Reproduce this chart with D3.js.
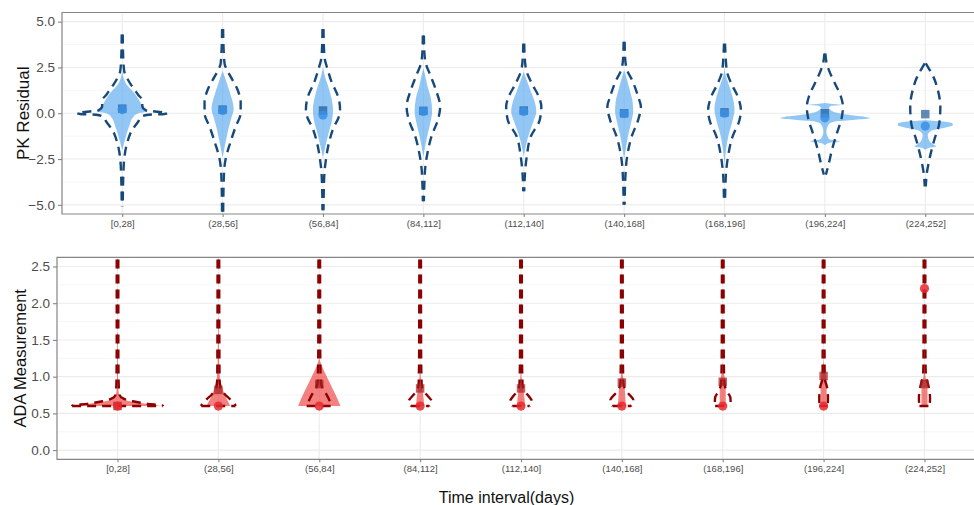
<!DOCTYPE html>
<html><head><meta charset="utf-8">
<script src="https://cdn.jsdelivr.net/npm/d3@7"></script>
<style>body{margin:0;background:#fff} text{font-family:"Liberation Sans",Arial,Helvetica,sans-serif}</style>
</head><body><svg id="c" width="974" height="505" xmlns="http://www.w3.org/2000/svg"></svg>
<script>
// ---------------- DATA ----------------
const categories = ["[0,28]","(28,56]","(56,84]","(84,112]","(112,140]","(140,168]","(168,196]","(196,224]","(224,252]"];
const pkTicks = [-5, -2.5, 0, 2.5, 5];
const pkMinor = [-3.75, -1.25, 1.25, 3.75];
const adaTicks = [0, 0.5, 1, 1.5, 2, 2.5];
const adaMinor = [0.25, 0.75, 1.25, 1.75, 2.25];

// violin profiles: [value, half-width in category steps]
const pkDashed = [
  [[4.3,0.005],[3.0,0.01],[2.3,0.02],[1.8,0.06],[1.3,0.12],[1.0,0.16],[0.7,0.2],[0.4,0.2],[0.15,0.24],[0.06,0.40],[0,0.45],[-0.04,0.42],[-0.08,0.26],[-0.2,0.19],[-0.45,0.16],[-0.9,0.10],[-1.6,0.05],[-2.5,0.02],[-3.5,0.01],[-5.1,0.005]],
  [[4.6,0.005],[3.5,0.01],[2.7,0.02],[2.3,0.05],[2.0,0.08],[1.27,0.15],[0.6,0.18],[0.0,0.18],[-0.73,0.13],[-1.63,0.075],[-2.5,0.03],[-3.5,0.012],[-5.7,0.005]],
  [[4.6,0.005],[3.5,0.01],[2.9,0.02],[2.5,0.04],[1.8,0.08],[0.72,0.16],[0.18,0.17],[-0.3,0.15],[-0.73,0.11],[-1.6,0.06],[-2.5,0.03],[-3.5,0.012],[-5.3,0.005]],
  [[4.25,0.005],[3.3,0.01],[2.7,0.025],[2.0,0.075],[1.27,0.125],[0.36,0.167],[-0.36,0.145],[-1.27,0.08],[-2.2,0.04],[-2.9,0.02],[-3.8,0.01],[-4.8,0.005]],
  [[3.8,0.005],[3.0,0.01],[2.35,0.025],[1.63,0.08],[0.9,0.15],[0.36,0.175],[-0.36,0.16],[-1.27,0.07],[-2.36,0.03],[-3.3,0.012],[-4.26,0.005]],
  [[3.9,0.005],[3.0,0.01],[2.35,0.03],[1.8,0.08],[0.9,0.14],[0.36,0.167],[-0.36,0.14],[-1.27,0.075],[-2.36,0.03],[-3.5,0.012],[-5.0,0.005]],
  [[3.8,0.005],[3.0,0.012],[2.26,0.025],[1.63,0.067],[0.9,0.133],[0.18,0.163],[-0.36,0.15],[-1.27,0.08],[-2.36,0.035],[-3.5,0.012],[-4.9,0.005]],
  [[3.26,0.005],[2.8,0.015],[2.35,0.04],[1.63,0.1],[0.9,0.16],[0.36,0.18],[-0.18,0.17],[-1.09,0.12],[-2.0,0.07],[-2.72,0.04],[-3.35,0.01]],
  [[2.72,0.005],[2.4,0.04],[2.0,0.08],[1.27,0.125],[0.36,0.15],[-0.54,0.14],[-1.45,0.09],[-2.54,0.04],[-3.3,0.015],[-3.99,0.005]]
];
const pkFilled = [
  [[2.4,0],[2.0,0.01],[1.6,0.04],[1.1,0.12],[0.7,0.17],[0.4,0.2],[0.18,0.23],[0.08,0.24],[0.0,0.16],[-0.2,0.11],[-0.7,0.07],[-1.2,0.04],[-1.6,0.02],[-2.0,0]],
  [[2.3,0],[2.0,0.02],[1.5,0.05],[1.0,0.08],[0.5,0.105],[0.2,0.11],[-0.2,0.09],[-0.8,0.06],[-1.45,0.035],[-2.0,0.015],[-2.4,0]],
  [[2.5,0],[2.0,0.02],[1.5,0.05],[0.8,0.085],[0.2,0.1],[-0.4,0.09],[-1.0,0.06],[-1.8,0.025],[-2.4,0]],
  [[2.45,0],[2.0,0.02],[1.5,0.04],[0.8,0.075],[0.1,0.087],[-0.5,0.07],[-1.2,0.04],[-1.9,0.015],[-2.36,0]],
  [[2.26,0],[1.8,0.03],[1.2,0.07],[0.6,0.11],[0.1,0.125],[-0.4,0.1],[-1.0,0.06],[-1.8,0.02],[-2.36,0]],
  [[2.35,0],[1.9,0.025],[1.3,0.055],[0.6,0.085],[0.1,0.09],[-0.5,0.07],[-1.2,0.04],[-2.0,0.015],[-2.5,0]],
  [[2.5,0],[2.1,0.01],[1.6,0.04],[0.9,0.08],[0.2,0.1],[-0.4,0.08],[-1.2,0.04],[-2.0,0.015],[-2.5,0.005],[-2.8,0]],
  [[0.56,0],[0.5,0.08],[0.45,0.16],[0.4,0.06],[0.3,0.04],[0.1,0.08],[0.0,0.14],[-0.1,0.25],[-0.2,0.4],[-0.27,0.45],[-0.35,0.3],[-0.45,0.1],[-0.6,0.04],[-1.0,0.015],[-1.4,0.04],[-1.54,0.15],[-1.62,0.04],[-1.75,0]],
  [[-0.38,0],[-0.45,0.18],[-0.55,0.27],[-0.65,0.275],[-0.8,0.18],[-0.95,0.06],[-1.2,0.025],[-1.5,0.04],[-1.7,0.08],[-1.8,0.11],[-1.9,0.03],[-2.0,0]]
];
const pkSquare = [0.25, 0.2, 0.15, 0.13, 0.15, 0.0, 0.05, 0.0, -0.05];
const pkCircle = [0.2, 0.15, -0.1, 0.1, 0.1, -0.02, 0.0, -0.25, -0.7];

const adaDashed = [
  [[2.8,0.008],[1.5,0.008],[1.0,0.01],[0.8,0.015],[0.75,0.02],[0.7,0.06],[0.665,0.15],[0.63,0.3],[0.605,0.45],[0.6,0.45]],
  [[2.8,0.008],[1.3,0.01],[0.95,0.012],[0.85,0.02],[0.8,0.04],[0.75,0.07],[0.7,0.11],[0.66,0.14],[0.62,0.165],[0.6,0.17]],
  [[2.8,0.008],[1.3,0.01],[0.95,0.015],[0.85,0.03],[0.8,0.05],[0.75,0.075],[0.68,0.1],[0.63,0.12],[0.6,0.125]],
  [[2.8,0.008],[1.3,0.01],[0.9,0.015],[0.83,0.025],[0.78,0.05],[0.73,0.08],[0.68,0.11],[0.64,0.115],[0.6,0.09]],
  [[2.8,0.008],[1.3,0.01],[0.9,0.015],[0.83,0.025],[0.78,0.05],[0.73,0.08],[0.68,0.105],[0.64,0.11],[0.6,0.085]],
  [[2.8,0.008],[1.3,0.01],[0.92,0.015],[0.85,0.025],[0.79,0.05],[0.74,0.085],[0.68,0.115],[0.64,0.115],[0.6,0.09]],
  [[2.8,0.008],[1.3,0.01],[0.95,0.015],[0.85,0.025],[0.78,0.05],[0.72,0.075],[0.66,0.078],[0.6,0.075]],
  [[2.8,0.008],[1.1,0.01],[0.95,0.015],[0.88,0.03],[0.8,0.04],[0.7,0.043],[0.6,0.04]],
  [[2.8,0.008],[1.2,0.01],[1.0,0.015],[0.9,0.035],[0.8,0.05],[0.7,0.055],[0.6,0.05]]
];
const adaFilled = [
  [[1.6,0.003],[1.0,0.005],[0.8,0.01],[0.72,0.03],[0.68,0.08],[0.65,0.18],[0.62,0.33],[0.6,0.44]],
  [[1.8,0.003],[1.3,0.006],[1.0,0.014],[0.9,0.03],[0.8,0.05],[0.7,0.08],[0.65,0.1],[0.6,0.115]],
  [[1.25,0],[1.2,0.012],[1.1,0.04],[1.0,0.075],[0.9,0.11],[0.8,0.145],[0.7,0.18],[0.6,0.21]],
  [[1.2,0],[1.0,0.006],[0.9,0.015],[0.8,0.025],[0.7,0.035],[0.6,0.04]],
  [[1.2,0],[1.0,0.006],[0.9,0.015],[0.8,0.025],[0.7,0.035],[0.6,0.04]],
  [[1.2,0],[1.02,0.008],[0.95,0.02],[0.85,0.028],[0.7,0.035],[0.6,0.04]],
  [[1.2,0],[1.05,0.01],[0.95,0.025],[0.8,0.03],[0.6,0.03]],
  [[1.25,0],[1.1,0.01],[1.0,0.025],[0.85,0.03],[0.6,0.03]],
  [[1.15,0],[1.0,0.01],[0.92,0.025],[0.8,0.03],[0.6,0.03]]
];
const adaSquare = [0.6, 0.82, 0.9, 0.84, 0.84, 0.92, 0.93, 1.01, 0.9];
const adaCircle = [0.6, 0.6, 0.6, 0.6, 0.6, 0.6, 0.6, 0.6, 2.2];

// ---------------- DRAW ----------------
const svg = d3.select("#c");
const FONT = '"Liberation Sans",Arial,Helvetica,sans-serif';

function panel(cfg) {
  const x = d3.scalePoint().domain(categories).range([cfg.left, cfg.right]).padding(0.6);
  const y = d3.scaleLinear().domain(cfg.domain).range([cfg.bottom, cfg.top]);
  const step = x.step();
  const g = svg.append("g");
  const clipId = "clip" + cfg.id;
  svg.append("defs").append("clipPath").attr("id", clipId)
    .append("rect").attr("x", cfg.left).attr("y", cfg.top)
    .attr("width", cfg.right - cfg.left).attr("height", cfg.bottom - cfg.top);

  // gridlines
  g.selectAll(".minor").data(cfg.minor).join("line")
    .attr("x1", cfg.left).attr("x2", cfg.right)
    .attr("y1", d => y(d)).attr("y2", d => y(d))
    .attr("stroke", "#f2f2f2").attr("stroke-width", 0.7);
  g.selectAll(".major").data(cfg.ticks).join("line")
    .attr("x1", cfg.left).attr("x2", cfg.right)
    .attr("y1", d => y(d)).attr("y2", d => y(d))
    .attr("stroke", "#ebebeb").attr("stroke-width", 1.1);
  g.selectAll(".vmajor").data(categories).join("line")
    .attr("x1", d => x(d)).attr("x2", d => x(d))
    .attr("y1", cfg.top).attr("y2", cfg.bottom)
    .attr("stroke", "#ebebeb").attr("stroke-width", 1.1);

  const plot = g.append("g").attr("clip-path", `url(#${clipId})`);

  // filled violins
  categories.forEach((c, i) => {
    const cx = x(c);
    const area = d3.area()
      .y(d => y(d[0]))
      .x0(d => cx - d[1] * step)
      .x1(d => cx + d[1] * step)
      .curve(d3.curveMonotoneY);
    plot.append("path").attr("d", area(cfg.filled[i]))
      .attr("fill", cfg.fillColor).attr("fill-opacity", cfg.fillOpacity).attr("stroke", "none");
  });

  // dashed violins: left & right edges drawn from top so dashes line up
  categories.forEach((c, i) => {
    const cx = x(c);
    const prof = cfg.dashed[i];
    const left = d3.line().x(d => cx - d[1] * step).y(d => y(d[0])).curve(d3.curveMonotoneY);
    const right = d3.line().x(d => cx + d[1] * step).y(d => y(d[0])).curve(d3.curveMonotoneY);
    [left, right].forEach(fn => plot.append("path").attr("d", fn(prof))
      .attr("fill", "none").attr("stroke", cfg.lineColor).attr("stroke-width", 2.4)
      .attr("stroke-dasharray", "9,6").attr("stroke-linecap", "butt"));
    const last = prof[prof.length - 1];
    if (last[1] > 0.02) {
      const line = d3.line().x(d => cx + d * step).y(() => y(last[0]));
      plot.append("path").attr("d", line([-last[1], last[1]]))
        .attr("fill", "none").attr("stroke", cfg.lineColor).attr("stroke-width", 2.4)
        .attr("stroke-dasharray", "9,6");
    }
  });

  // points
  const sq = 8.5;
  plot.selectAll(".sq").data(categories).join("rect")
    .attr("x", d => x(d) - sq / 2).attr("y", (d, i) => y(cfg.square[i]) - sq / 2)
    .attr("width", sq).attr("height", sq)
    .attr("fill", cfg.squareColor).attr("fill-opacity", 0.7);
  plot.selectAll(".ci").data(categories).join("circle")
    .attr("cx", d => x(d)).attr("cy", (d, i) => y(cfg.circle[i]))
    .attr("r", 4.6).attr("fill", cfg.circleColor).attr("fill-opacity", 0.85);

  // panel border
  g.append("path")
    .attr("d", `M${cfg.right},${cfg.top}H${cfg.left}V${cfg.bottom}H${cfg.right}`)
    .attr("fill", "none").attr("stroke", "#858585").attr("stroke-width", 1.2);

  // y axis
  const ya = d3.axisLeft(y).tickValues(cfg.ticks).tickFormat(d3.format(".1f")).tickSize(4).tickPadding(3);
  const yg = g.append("g").attr("transform", `translate(${cfg.left},0)`).call(ya);
  yg.select(".domain").remove();
  yg.selectAll(".tick line").attr("stroke", "#858585").attr("stroke-width", 1.1);
  yg.selectAll(".tick text").attr("fill", "#4d4d4d").style("font-size", "13.5px").style("font-family", FONT)
    .text(d => d3.format(".1f")(d).replace("-", "-"));

  // x axis
  const xa = d3.axisBottom(x).tickSize(3).tickPadding(3);
  const xg = g.append("g").attr("transform", `translate(0,${cfg.bottom})`).call(xa);
  xg.select(".domain").remove();
  xg.selectAll(".tick line").attr("stroke", "#858585").attr("stroke-width", 1.1);
  xg.selectAll(".tick text").attr("fill", "#4d4d4d").style("font-size", "9.5px").style("font-family", FONT);

  // y title
  svg.append("text")
    .attr("transform", `translate(${cfg.titleX},${(cfg.top + cfg.bottom) / 2}) rotate(-90)`)
    .attr("text-anchor", "middle").attr("dominant-baseline", "central")
    .style("font-size", cfg.titleSize + "px").style("font-family", FONT).attr("fill", "#111")
    .text(cfg.title);
}

panel({
  id: "pk", left: 62, right: 985.5, top: 12.5, bottom: 214,
  domain: [-5.5, 5.5], ticks: pkTicks, minor: pkMinor,
  dashed: pkDashed, filled: pkFilled, square: pkSquare, circle: pkCircle,
  fillColor: "#56a8f0", fillOpacity: 0.65, lineColor: "#17497a",
  squareColor: "#1f5b99", circleColor: "#3a8fe6",
  title: "PK Residual", titleX: 23, titleSize: 17
});

panel({
  id: "ada", left: 57, right: 985, top: 257.3, bottom: 459.3,
  domain: [-0.125, 2.625], ticks: adaTicks, minor: adaMinor,
  dashed: adaDashed, filled: adaFilled, square: adaSquare, circle: adaCircle,
  fillColor: "#f03c3c", fillOpacity: 0.65, lineColor: "#8b0000",
  squareColor: "#a52020", circleColor: "#e8282e",
  title: "ADA Measurement", titleX: 20, titleSize: 16.5
});

svg.append("text").attr("x", 506.5).attr("y", 503).attr("text-anchor", "middle")
  .style("font-size", "16px").style("font-family", FONT).attr("fill", "#111")
  .text("Time interval(days)");
</script>
</body></html>
